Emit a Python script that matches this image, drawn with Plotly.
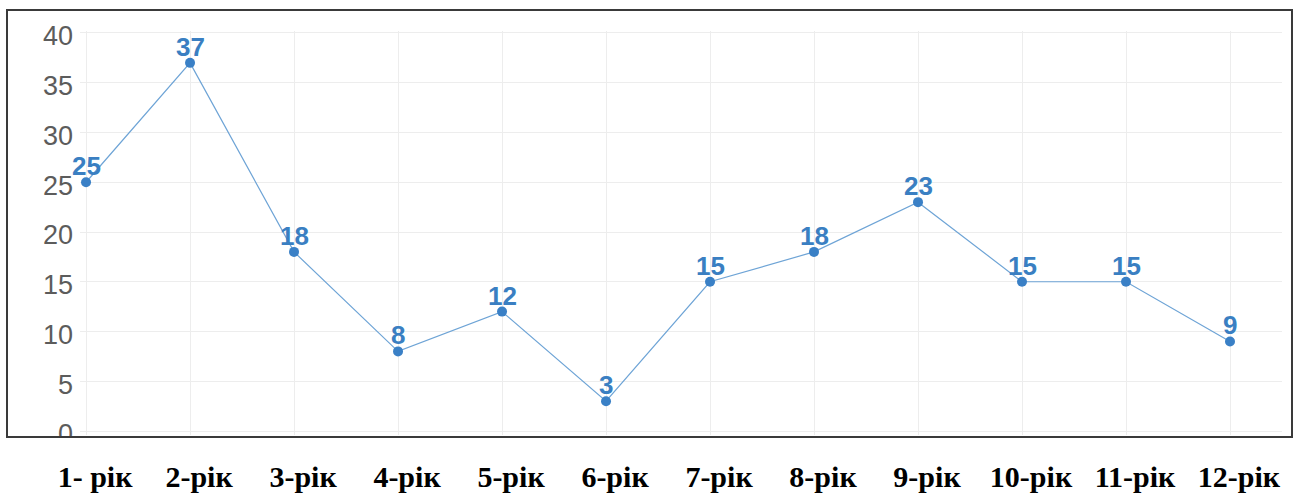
import plotly.graph_objects as go

# Yearly counts
years = ["1- рік", "2-рік", "3-рік", "4-рік", "5-рік", "6-рік",
         "7-рік", "8-рік", "9-рік", "10-рік", "11-рік", "12-рік"]
values = [25, 37, 18, 8, 12, 3, 15, 18, 23, 15, 15, 9]
y_ticks = [0, 5, 10, 15, 20, 25, 30, 35, 40]

W, H = 1293, 493
ML, MR, MT, MB = 80, 11, 31, 58
pw, ph = W - ML - MR, H - MT - MB

idx = list(range(len(values)))

fig = go.Figure()
fig.add_trace(go.Scatter(
    x=idx, y=values,
    mode="lines+markers",
    line=dict(color="#6ea4d6", width=1.2),
    marker=dict(color="#3a80c6", size=10),
    cliponaxis=False,
    showlegend=False,
))

# value labels above each point
for i, v in zip(idx, values):
    fig.add_annotation(
        x=i, y=v, text=str(v), showarrow=False, yshift=16,
        font=dict(family="Liberation Sans, Arial, sans-serif", size=26,
                  color="#3a7fc2", weight="bold"),
    )

# frame around the plotting region
def px_x(p):
    return (p - ML) / pw

def px_y(p):
    return (H - MB - p) / ph

fig.add_shape(type="rect", xref="paper", yref="paper",
              x0=px_x(7), x1=px_x(1292), y0=px_y(437), y1=px_y(10),
              line=dict(color="#3a3a3a", width=2), layer="above")
# white band under the frame
fig.add_shape(type="rect", xref="paper", yref="paper",
              x0=px_x(8), x1=px_x(80), y0=px_y(452), y1=px_y(438),
              line=dict(width=0), fillcolor="white", layer="above")

fig.update_layout(
    width=W, height=H,
    margin=dict(l=ML, r=MR, t=MT, b=MB, pad=0),
    paper_bgcolor="white", plot_bgcolor="white",
    xaxis=dict(
        range=[-0.058, 11.5], automargin=False,
        tickmode="array", tickvals=idx, ticktext=years,
        showgrid=True, gridcolor="#ededed", gridwidth=1,
        zeroline=False, showline=False,
        tickfont=dict(family="Liberation Serif, Times New Roman, serif",
                      size=30, color="black", weight="bold"),
        ticklabelshift=9, ticklabelstandoff=21,
    ),
    yaxis=dict(
        range=[-0.4, 40.2], automargin=False,
        tickmode="array", tickvals=y_ticks,
        showgrid=True, gridcolor="#ededed", gridwidth=1,
        zeroline=False, showline=False,
        tickfont=dict(family="Liberation Sans, Arial, sans-serif",
                      size=27, color="#5c5c5c"),
        ticklabelstandoff=6, ticklabelshift=3,
    ),
)

fig.write_html("out.html")
